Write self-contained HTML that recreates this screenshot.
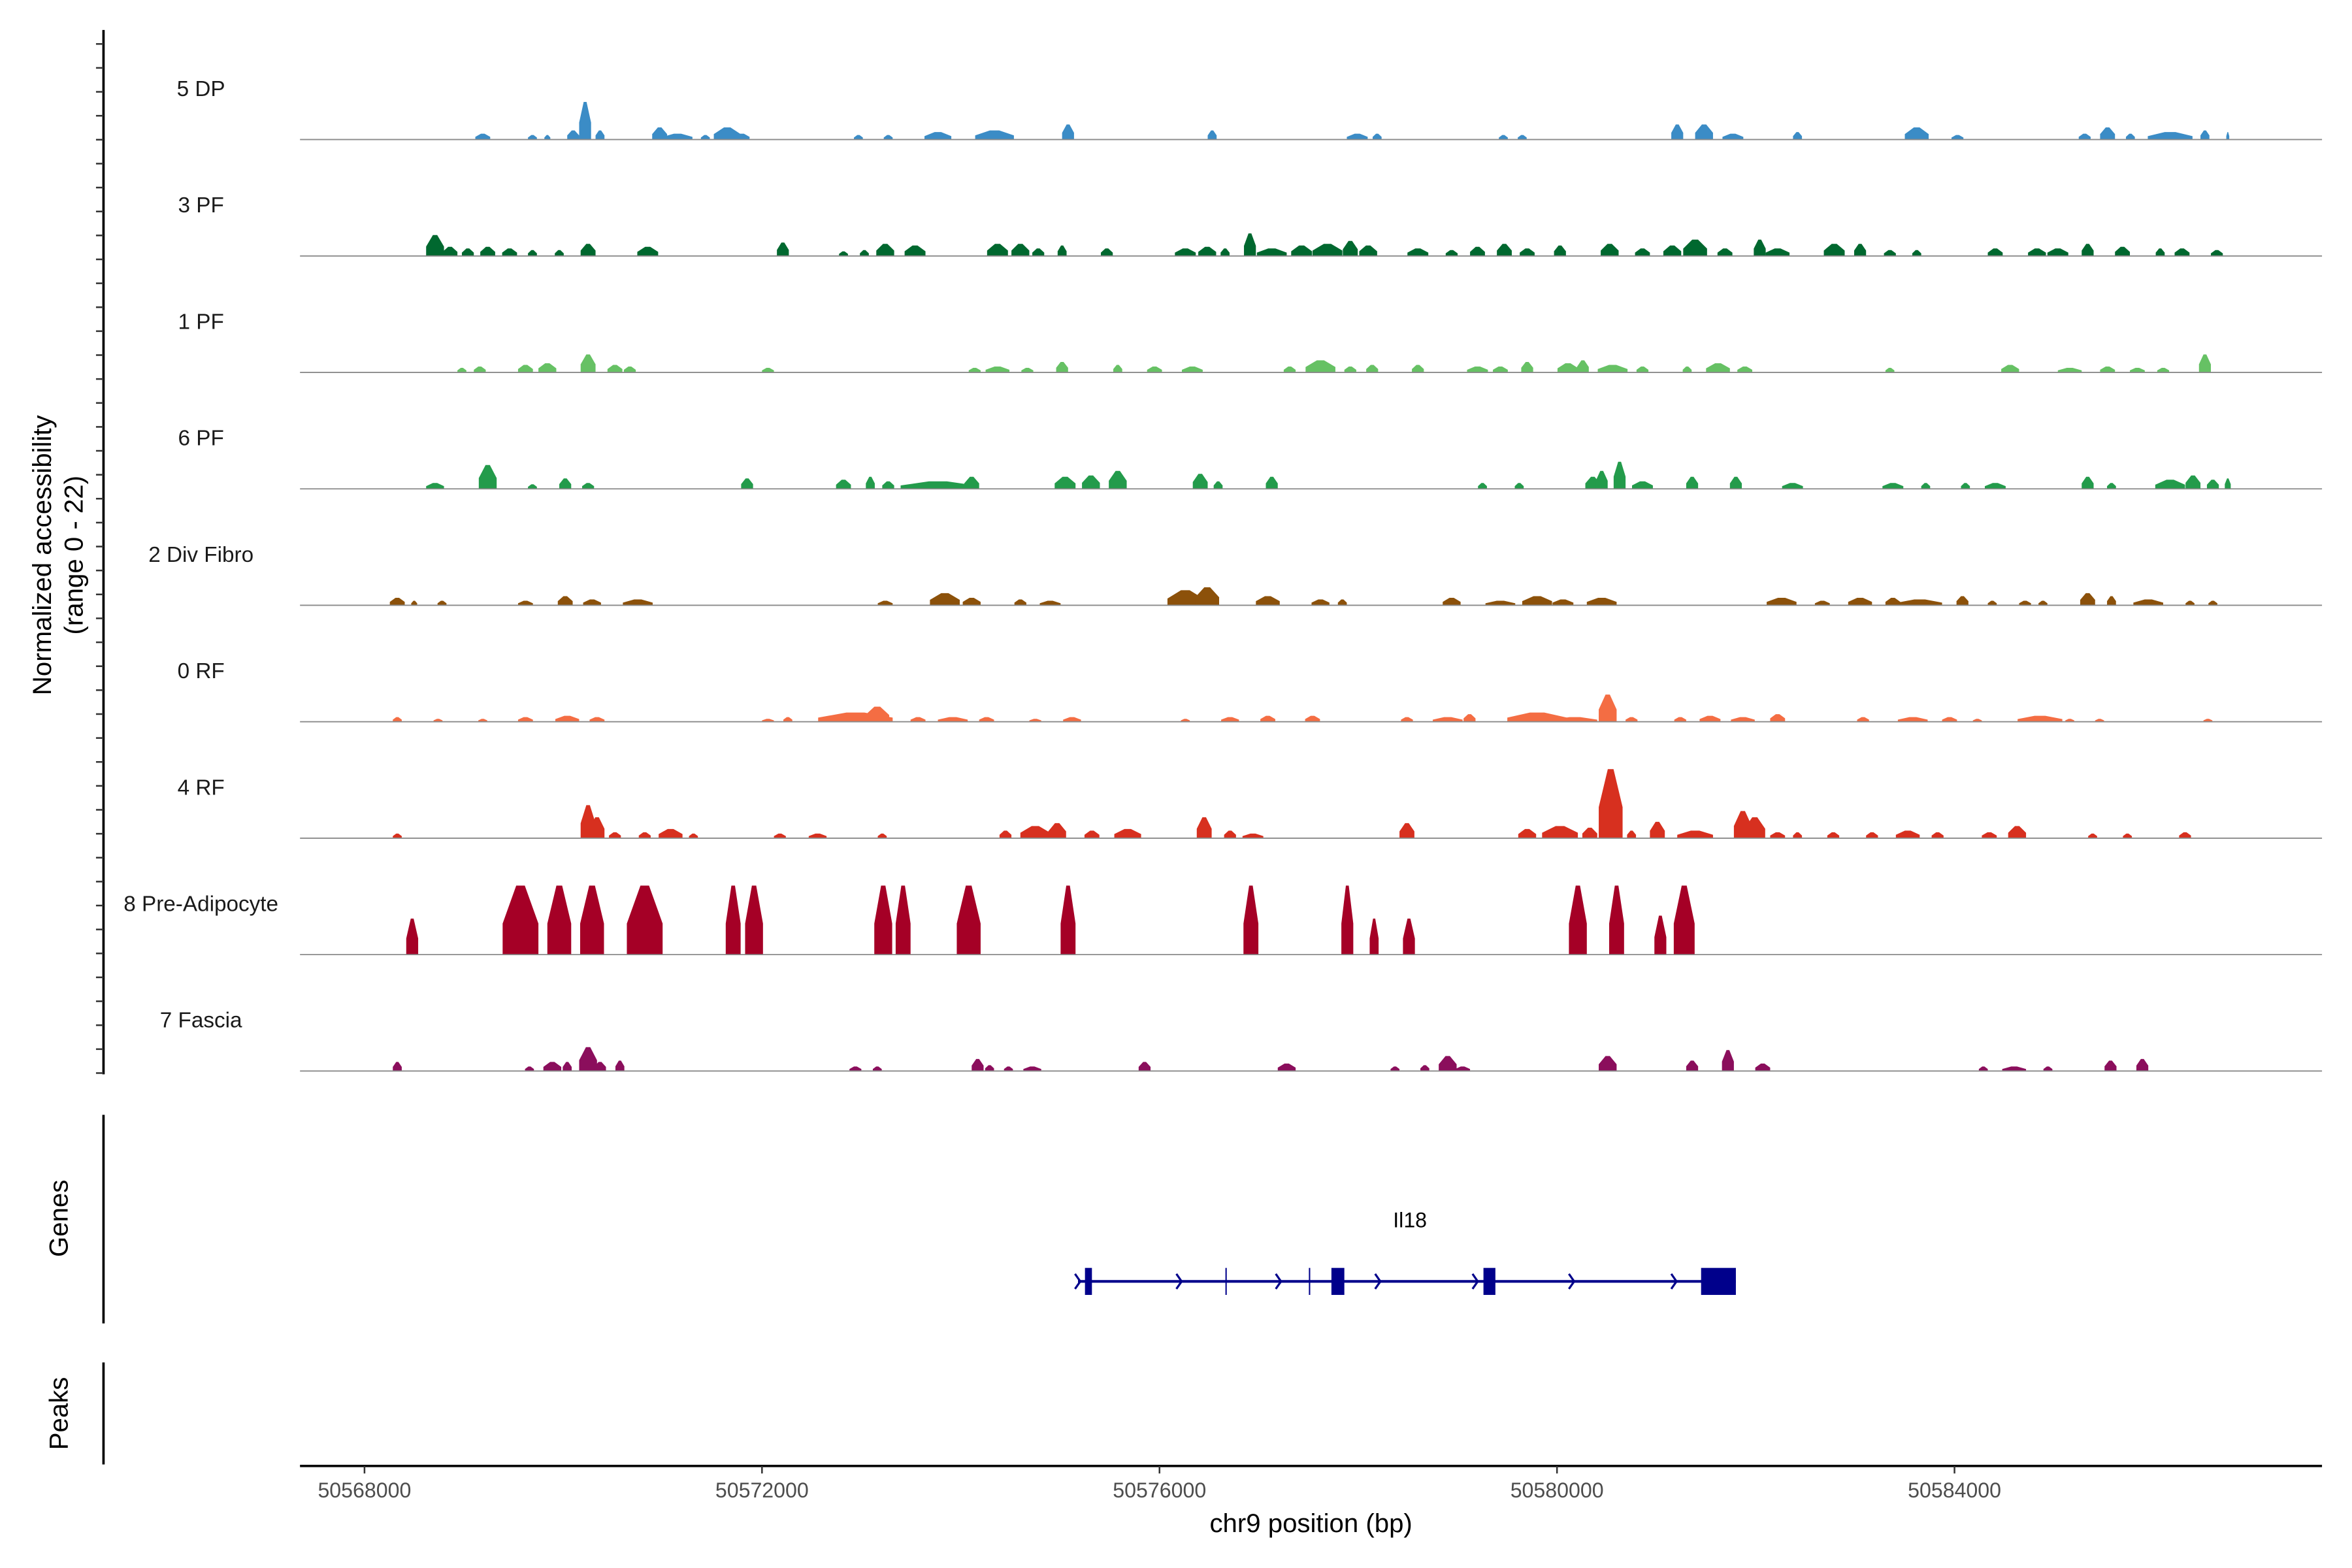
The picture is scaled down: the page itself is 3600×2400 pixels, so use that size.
<!DOCTYPE html>
<html><head><meta charset="utf-8"><style>
html,body{margin:0;padding:0;background:#fff}
svg{display:block}
text{font-family:"Liberation Sans",Arial,sans-serif}
</style></head><body>
<svg id="chart" xmlns="http://www.w3.org/2000/svg" width="3600" height="2400" viewBox="0 0 1568 1045" preserveAspectRatio="none">
<rect width="1568" height="1045" fill="#fff"/>
<g id="tracks"></g>
<g id="yaxis"></g>
<text transform="translate(34,370) rotate(-90)" text-anchor="middle" font-size="17.5" fill="#000">Normalized accessibility</text>
<text transform="translate(55,370) rotate(-90)" text-anchor="middle" font-size="17.5" fill="#000">(range 0 - 22)</text>
<line x1="69" y1="743" x2="69" y2="882" stroke="#000" stroke-width="1.6"/>
<text transform="translate(45,812) rotate(-90)" text-anchor="middle" font-size="17.5" fill="#000">Genes</text>
<g id="gene"></g>
<line x1="69" y1="908" x2="69" y2="976" stroke="#000" stroke-width="1.6"/>
<text transform="translate(45,942) rotate(-90)" text-anchor="middle" font-size="17.5" fill="#000">Peaks</text>
<g id="xaxis"></g>
<text x="874" y="1021" text-anchor="middle" font-size="17.5" fill="#000">chr9 position (bp)</text>
</svg>
<script>
// positions are kb offsets from origin 50568000; widths in bp; heights in normalized units (0-22)
const origin = 50568000;
const trackNames = ["5 DP","3 PF","1 PF","6 PF","2 Div Fibro","0 RF","4 RF","8 Pre-Adipocyte","7 Fascia"];
const trackColors = ["#3b8cc6","#00682f","#66c164","#239b4b","#8c510a","#f46d43","#d7301f","#a50026","#8b0e5c"];

const dpPos=[1.19,1.69,1.84,2.10,2.22,2.37,2.97,3.15,3.43,3.65,3.80,4.97,5.27,5.77,6.34,7.08,8.53,9.99,10.19,11.46,11.65,13.21,13.48,13.77,14.42,15.62,16.03,17.31,17.54,17.77,18.17,18.52,18.75];
const dpWid=[150,90,60,120,120,90,150,300,90,270,150,90,90,270,390,120,90,210,90,90,90,120,180,210,90,240,120,120,150,90,450,90,30];
const dpHt=[1.8,1.4,1.4,2.8,11.5,2.8,3.7,1.8,1.4,3.7,1.8,1.4,1.4,2.3,2.8,4.6,2.8,1.8,1.8,1.4,1.4,4.6,4.6,1.8,2.3,3.7,1.4,1.8,3.7,1.8,2.3,2.8,2.3];

const pf3Pos=[0.71,0.86,1.04,1.24,1.46,1.69,1.96,2.25,2.85,4.21,4.82,5.03,5.24,5.54,6.37,6.60,6.78,7.02,7.47,8.26,8.48,8.66,8.91,9.13,9.43,9.69,9.92,10.10,10.60,10.94,11.20,11.47,11.70,12.03,12.53,12.86,13.16,13.39,13.69,14.04,14.22,14.79,15.05,15.35,15.62,16.41,16.83,17.04,17.34,17.69,18.07,18.29,18.64];
const pf3Wid=[180,150,120,150,150,90,90,150,210,120,90,90,180,210,210,180,120,90,120,210,180,90,120,300,210,300,150,180,210,120,150,150,150,120,180,150,180,240,150,120,240,210,120,120,90,150,180,210,120,150,90,150,120];
const pf3Ht=[6.4,2.8,2.3,2.8,2.3,1.8,1.8,3.7,2.8,4.1,1.4,1.8,3.7,3.2,3.7,3.7,2.3,3.2,2.3,2.3,2.8,2.3,6.9,2.3,3.2,3.7,4.6,3.2,2.3,1.8,2.8,3.7,2.3,3.2,3.7,2.3,3.2,5.0,2.3,5.0,2.3,3.7,3.7,1.8,1.8,2.3,2.3,2.3,3.7,2.8,2.3,2.3,1.8];

const pf1Pos=[0.98,1.16,1.62,1.84,2.25,2.52,2.67,4.06,6.14,6.37,6.67,7.02,7.58,7.95,8.33,9.31,9.62,9.92,10.14,10.60,11.20,11.43,11.70,12.11,12.26,12.56,12.86,13.31,13.62,13.89,15.35,16.56,17.16,17.54,17.84,18.10,18.52];
const pf1Wid=[90,120,150,180,150,150,120,120,120,240,120,120,90,150,210,120,300,120,120,120,210,150,120,210,120,300,120,90,240,150,90,180,240,150,150,120,120];
const pf1Ht=[1.4,1.8,2.3,2.8,5.5,2.3,1.8,1.4,1.4,1.8,1.4,3.2,2.3,1.8,1.8,1.8,3.7,1.8,2.3,2.3,1.8,1.8,3.2,2.8,3.7,2.3,1.8,1.8,2.8,1.8,1.4,2.3,1.4,1.8,1.4,1.4,5.5];

const pf6Pos=[0.71,1.24,1.69,2.02,2.25,3.85,4.82,5.09,5.27,5.77,6.11,7.05,7.31,7.58,8.41,8.59,9.13,11.25,11.62,12.36,12.45,12.63,12.86,13.36,13.80,14.37,15.38,15.71,16.11,16.41,17.34,17.58,18.17,18.40,18.60,18.75];
const pf6Wid=[180,180,90,120,120,120,150,90,120,750,150,210,180,180,150,90,120,90,90,150,120,120,210,120,120,210,210,90,90,210,120,90,300,150,120,60];
const pf6Ht=[1.8,7.3,1.4,3.2,1.8,3.2,2.8,3.7,2.3,2.3,3.7,3.7,4.1,5.5,4.6,2.3,3.7,1.8,1.8,3.7,5.5,8.3,2.3,3.7,3.7,1.8,1.8,1.8,1.8,1.8,3.7,1.8,2.8,4.1,2.8,3.2];

const divPos=[0.33,0.50,0.78,1.62,2.02,2.29,2.75,5.24,5.84,6.11,6.60,6.90,8.26,8.48,9.09,9.62,9.84,10.94,11.43,11.80,12.06,12.45,14.26,14.67,15.05,15.38,15.65,16.08,16.38,16.71,16.89,17.34,17.58,17.95,18.37,18.60];
const divWid=[150,60,90,150,150,180,300,150,300,180,120,210,360,240,240,180,90,180,300,300,210,300,300,150,240,150,450,120,90,120,90,150,90,300,90,90];
const divHt=[2.3,1.4,1.4,1.4,2.8,1.8,1.8,1.4,3.7,2.3,1.8,1.4,4.6,5.5,2.8,1.8,1.8,2.3,1.4,2.8,1.8,2.3,2.3,1.4,2.3,2.3,1.8,2.8,1.4,1.4,1.4,3.7,2.8,1.8,1.4,1.4];

const rf0Pos=[0.33,0.74,1.19,1.62,2.04,2.34,4.06,4.26,4.94,5.16,5.57,5.92,6.26,6.75,7.12,8.26,8.71,9.09,9.54,10.49,10.90,11.12,11.80,12.18,12.51,12.75,13.24,13.54,13.87,14.22,15.08,15.58,15.95,16.23,16.86,17.16,17.46,18.55];
const rf0Wid=[90,90,90,150,240,150,120,90,750,240,150,300,150,120,180,90,180,150,150,120,300,120,600,450,180,120,120,210,240,150,120,300,150,90,450,90,90,90];
const rf0Ht=[1.4,0.9,0.9,1.4,1.8,1.4,0.9,1.4,2.8,4.6,1.4,1.4,1.4,0.9,1.4,0.9,1.4,1.8,1.8,1.4,1.4,2.3,2.8,1.4,8.3,1.4,1.4,1.8,1.4,2.3,1.4,1.4,1.4,0.9,1.8,0.9,0.9,0.9];

const rf4Pos=[0.33,2.25,2.34,2.52,2.82,3.08,3.31,4.18,4.56,5.21,6.45,6.75,6.97,7.32,7.68,8.45,8.71,8.94,10.49,11.70,12.03,12.33,12.54,12.75,13.01,13.39,13.87,13.99,14.22,14.42,14.78,15.17,15.53,15.83,16.35,16.63,17.39,17.74,18.32];
const rf4Wid=[90,150,150,120,120,240,90,120,180,90,120,300,180,150,270,150,120,210,150,180,360,150,240,90,150,360,180,210,150,90,120,120,240,120,150,180,90,90,120];
const rf4Ht=[1.4,10.1,6.4,1.8,1.8,2.8,1.4,1.4,1.4,1.4,2.3,3.7,4.6,2.3,2.8,6.4,2.3,1.4,4.6,2.8,3.7,3.2,21.1,2.3,5.0,2.3,8.3,6.4,1.8,1.8,1.8,1.8,2.3,1.8,1.8,3.7,1.4,1.4,1.8];

const preadPos=[0.48,1.57,1.96,2.29,2.82,3.71,3.92,5.22,5.42,6.08,7.08,8.92,9.89,10.16,10.51,12.21,12.60,13.04,13.28];
const preadWid=[120,360,240,240,360,150,180,180,150,240,150,150,120,90,120,180,150,120,210];
const preadHt=[11.0,21.1,21.1,21.1,21.1,21.1,21.1,21.1,21.1,21.1,21.1,21.1,21.1,11.0,11.0,21.1,21.1,11.9,21.1];

const fasPos=[0.33,1.66,1.89,2.04,2.25,2.37,2.57,4.94,5.16,6.17,6.29,6.48,6.72,7.85,9.28,10.37,10.67,10.90,11.05,12.51,13.36,13.72,14.07,16.29,16.60,16.94,17.57,17.89];
const fasWid=[90,90,180,90,180,120,90,120,90,120,90,90,180,120,180,90,90,180,150,180,120,120,150,90,240,90,120,120];
const fasHt=[2.8,1.4,2.8,2.8,7.3,2.8,3.2,1.4,1.4,3.7,1.8,1.4,1.4,2.8,2.3,1.4,1.8,4.6,1.4,4.6,3.2,6.4,2.3,1.4,1.4,1.4,3.2,3.7];

const trackPos=[dpPos,pf3Pos,pf1Pos,pf6Pos,divPos,rf0Pos,rf4Pos,preadPos,fasPos];
const trackWid=[dpWid,pf3Wid,pf1Wid,pf6Wid,divWid,rf0Wid,rf4Wid,preadWid,fasWid];
const trackHt=[dpHt,pf3Ht,pf1Ht,pf6Ht,divHt,rf0Ht,rf4Ht,preadHt,fasHt];

const xTickValues=[50568000,50572000,50576000,50580000,50584000];
const xTickLabels=["50568000","50572000","50576000","50580000","50584000"];

// gene model (kb offsets)
const geneStart=7.18, geneEnd=13.80;
const exonStarts=[7.25,9.73,11.26,13.45];
const exonEnds=[7.32,9.86,11.38,13.80];
const thinExons=[8.67,9.51];
const arrowPos=[7.18,8.20,9.20,10.20,11.18,12.15,13.18];

const NS="http://www.w3.org/2000/svg";
function xKb(kb){return 243+kb*66.25;}
function xBp(bp){return xKb((bp-origin)/1000);}
const pxPerUnit=2.18;
function mk(tag,attrs,parent){const e=document.createElementNS(NS,tag);for(const k in attrs)e.setAttribute(k,attrs[k]);parent.appendChild(e);return e;}

const tracksG=document.getElementById('tracks');
for(let t=0;t<trackNames.length;t++){
  const base=93+t*77.6;
  const g=mk('g',{},tracksG);
  
  
  const lab=mk('text',{x:134,y:base-29,'text-anchor':'middle','font-size':14.5,fill:'#1a1a1a'},g);
  lab.textContent=trackNames[t];
  
  
  const P=trackPos[t],W=trackWid[t],H=trackHt[t];
  for(let i=0;i<P.length;i++){
    const c=xKb(P[i]), w=W[i]*66.25/1000, h=H[i]*pxPerUnit;
    const l=c-w/2,r=c+w/2;
    const pts=[[l,base],[l,base-h*0.45],[c-w*0.12,base-h],[c+w*0.12,base-h],[r,base-h*0.45],[r,base]];
    const p=mk('polygon',{points:pts.map(q=>q[0].toFixed(2)+','+q[1].toFixed(2)).join(' '),fill:trackColors[t]},g);
    
    
  }
  const bl=mk('line',{x1:200,y1:base,x2:1548,y2:base,stroke:'#8a8a8a','stroke-width':0.8},g);
  
  
}

// y axis
const ya=document.getElementById('yaxis');
mk('line',{x1:69,y1:20,x2:69,y2:716,stroke:'#000','stroke-width':1.6},ya);
for(let y=29.3;y<716;y+=15.95){
  const tk=mk('line',{x1:64,y1:y,x2:69,y2:y,stroke:'#333','stroke-width':1.1},ya);
  
  
}

// gene
const gg=document.getElementById('gene');
const gy=854, gc='#00008b';
mk('line',{x1:xKb(geneStart),y1:gy,x2:xKb(geneEnd),y2:gy,stroke:gc,'stroke-width':1.8},gg);
for(let i=0;i<arrowPos.length;i++){
  const ax=xKb(arrowPos[i]);
  const a=mk('polyline',{points:`${ax-2},${gy-5} ${ax+1.5},${gy} ${ax-2},${gy+5}`,fill:'none',stroke:gc,'stroke-width':1.4},gg);
  
  
}
for(let i=0;i<thinExons.length;i++){
  const tx=xKb(thinExons[i]);
  const e=mk('line',{x1:tx,y1:845,x2:tx,y2:863,stroke:gc,'stroke-width':0.9},gg);
  
  
}
for(let i=0;i<exonStarts.length;i++){
  const x1=xKb(exonStarts[i]),x2=xKb(exonEnds[i]);
  const e=mk('rect',{x:x1,y:845,width:Math.max(x2-x1,3),height:18,fill:gc},gg);
  
  
}
const gl=mk('text',{x:940,y:818,'text-anchor':'middle','font-size':14,fill:'#000'},gg);
gl.textContent='Il18';



// x axis
const xa=document.getElementById('xaxis');
mk('line',{x1:200,y1:977,x2:1548,y2:977,stroke:'#000','stroke-width':1.6},xa);
for(let i=0;i<xTickValues.length;i++){
  const x=xBp(xTickValues[i]);
  const tk=mk('line',{x1:x,y1:977,x2:x,y2:982,stroke:'#333','stroke-width':1.1},xa);
  
  
  const tl=mk('text',{x:x,y:998,'text-anchor':'middle','font-size':14,fill:'#4d4d4d'},xa);
  tl.textContent=xTickLabels[i];
  
  
}
</script>
</body></html>
